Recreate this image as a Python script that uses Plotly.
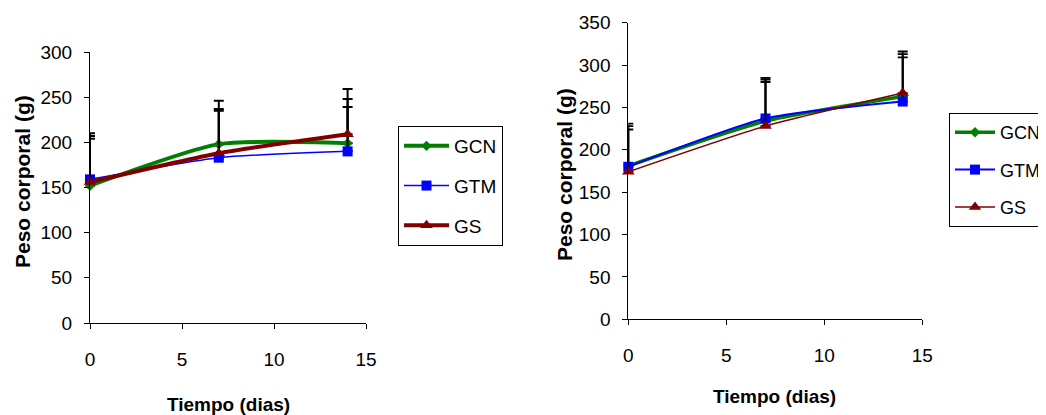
import plotly.graph_objects as go

# ---- data ----
days = [0, 7, 14]
series = ["GCN", "GTM", "GS"]

# left panel (means and upper SD)
left_gcn = [152, 198, 199]
left_gtm = [159, 183, 190]
left_gs = [156, 188, 209]
left_gcn_err = [55, 48, 49]
left_gtm_err = [51, 52, 49]
left_gs_err = [48, 49, 50]

# right panel
right_gcn = [181, 234, 263]
right_gtm = [180, 237, 257]
right_gs = [174, 228, 267]
right_gcn_err = [47, 49, 50]
right_gtm_err = [51, 48, 52]
right_gs_err = [50, 52, 49]

colors = {"GCN": "#008000", "GTM": "#0000FF", "GS": "#800000"}
symbols = {"GCN": "diamond", "GTM": "square", "GS": "triangle-up"}
msize = {"GCN": 8, "GTM": 10, "GS": 11}

# page body has an 8px default margin; figure sized to fill the window
OFF = 8
W, H = 1046 - OFF, 415 - OFF
FONT = "Liberation Sans, Arial, sans-serif"

fig = go.Figure()

def add(panel, name, y, err, lw, legend, xa, ya, ewidth):
    fig.add_trace(go.Scatter(
        x=days, y=y, name=name, mode="lines+markers",
        line=dict(color=colors[name], width=lw, shape="spline", smoothing=0.6),
        marker=dict(symbol=symbols[name], size=msize[name], color=colors[name]),
        error_y=dict(type="data", symmetric=False, array=err, arrayminus=[0, 0, 0],
                     color="black", thickness=ewidth, width=5),
        xaxis=xa, yaxis=ya, legend=legend, legendgroup=panel + name,
        cliponaxis=False,
    ))

add("L", "GCN", left_gcn, left_gcn_err, 4, "legend", "x", "y", 2)
add("L", "GTM", left_gtm, left_gtm_err, 1.5, "legend", "x", "y", 2)
add("L", "GS", left_gs, left_gs_err, 4, "legend", "x", "y", 2)
add("R", "GCN", right_gcn, right_gcn_err, 3.5, "legend2", "x2", "y2", 1.8)
add("R", "GTM", right_gtm, right_gtm_err, 2, "legend2", "x2", "y2", 1.8)
add("R", "GS", right_gs, right_gs_err, 1.5, "legend2", "x2", "y2", 1.8)

def px_x(v):
    return (v - OFF) / W

def px_y(v):
    return (H - (v - OFF)) / H

axis_common = dict(
    showgrid=False, zeroline=False, showline=True, linecolor="black", linewidth=1,
    ticks="outside", ticklen=5, tickcolor="black", tickwidth=1,
    tickfont=dict(family=FONT, size=19, color="black"),
)

fig.update_layout(
    width=W, height=H,
    margin=dict(l=0, r=0, t=0, b=0, autoexpand=False),
    paper_bgcolor="white", plot_bgcolor="white",
    font=dict(family=FONT, color="black"),
    xaxis=dict(domain=[px_x(90), px_x(366)], range=[0, 15], dtick=5, anchor="y",
               ticklabelstandoff=14, **axis_common),
    yaxis=dict(domain=[px_y(323), px_y(52)], range=[0, 300], dtick=50, anchor="x",
               ticklabelstandoff=8, **axis_common),
    xaxis2=dict(domain=[px_x(628.3), px_x(922.3)], range=[0, 15], dtick=5, anchor="y2",
                ticklabelstandoff=14, **axis_common),
    yaxis2=dict(domain=[px_y(319.3), px_y(22.7)], range=[0, 350], dtick=50, anchor="x2",
                ticklabelstandoff=8, **axis_common),
    legend=dict(x=px_x(398), y=px_y(126), xanchor="left", yanchor="top",
                bordercolor="black", borderwidth=1, bgcolor="white",
                font=dict(family=FONT, size=19, color="black"),
                tracegroupgap=12, itemwidth=45),
    legend2=dict(x=px_x(949), y=px_y(113), xanchor="left", yanchor="top",
                 bordercolor="black", borderwidth=1, bgcolor="white",
                 font=dict(family=FONT, size=18, color="black"),
                 tracegroupgap=11, itemwidth=40),
    showlegend=True,
)

title_font = dict(family=FONT, size=19, color="black", weight="bold")
ytitle_font = dict(family=FONT, size=21, color="black", weight="bold")
fig.add_annotation(text="Tiempo (dias)", xref="paper", yref="paper",
                   x=px_x(228), y=px_y(404), xanchor="center", yanchor="middle",
                   showarrow=False, font=title_font)
fig.add_annotation(text="Tiempo (dias)", xref="paper", yref="paper",
                   x=px_x(774), y=px_y(396), xanchor="center", yanchor="middle",
                   showarrow=False, font=title_font)
fig.add_annotation(text="Peso corporal (g)", xref="paper", yref="paper",
                   x=px_x(22), y=px_y(182), xanchor="center", yanchor="middle",
                   textangle=-90, showarrow=False, font=ytitle_font)
fig.add_annotation(text="Peso corporal (g)", xref="paper", yref="paper",
                   x=px_x(564), y=px_y(175), xanchor="center", yanchor="middle",
                   textangle=-90, showarrow=False, font=ytitle_font)

fig.write_html("out.html")
